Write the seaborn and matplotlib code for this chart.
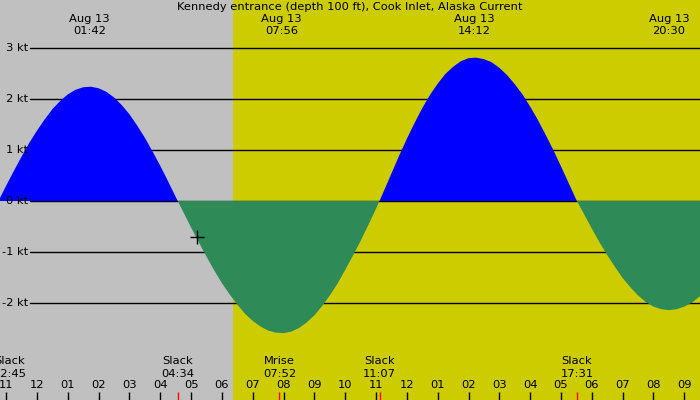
import matplotlib
matplotlib.use("Agg")
import matplotlib.pyplot as plt
import seaborn as sns

title = "Kennedy entrance (depth 100 ft), Cook Inlet, Alaska Current"

# current speed, hours from midnight Aug 13 (quarter hours)
hours = [-1.5, -1.25, -1.0, -0.75, -0.5, -0.25, 0.0, 0.25, 0.5, 0.75,
         1.0, 1.25, 1.5, 1.75, 2.0, 2.25, 2.5, 2.75, 3.0, 3.25,
         3.5, 3.75, 4.0, 4.25, 4.5, 4.75, 5.0, 5.25, 5.5, 5.75,
         6.0, 6.25, 6.5, 6.75, 7.0, 7.25, 7.5, 7.75, 8.0, 8.25,
         8.5, 8.75, 9.0, 9.25, 9.5, 9.75, 10.0, 10.25, 10.5, 10.75,
         11.0, 11.25, 11.5, 11.75, 12.0, 12.25, 12.5, 12.75, 13.0, 13.25,
         13.5, 13.75, 14.0, 14.25, 14.5, 14.75, 15.0, 15.25, 15.5, 15.75,
         16.0, 16.25, 16.5, 16.75, 17.0, 17.25, 17.5, 17.75, 18.0, 18.25,
         18.5, 18.75, 19.0, 19.25, 19.5, 19.75, 20.0, 20.25, 20.5, 20.75,
         21.0, 21.25, 21.5, 21.75, 22.0]
speed_kt = [-0.30, 0.00, 0.30, 0.59, 0.87, 1.14, 1.38, 1.60, 1.80, 1.96,
            2.09, 2.18, 2.23, 2.24, 2.21, 2.14, 2.03, 1.88, 1.70, 1.48,
            1.24, 0.97, 0.69, 0.39, 0.08, -0.22, -0.52, -0.81, -1.09, -1.36,
            -1.61, -1.83, -2.03, -2.21, -2.35, -2.46, -2.54, -2.58, -2.59, -2.56,
            -2.49, -2.38, -2.24, -2.06, -1.85, -1.62, -1.35, -1.07, -0.78, -0.47,
            -0.15, 0.19, 0.54, 0.89, 1.22, 1.53, 1.82, 2.08, 2.30, 2.49,
            2.63, 2.74, 2.80, 2.81, 2.78, 2.72, 2.61, 2.47, 2.29, 2.09,
            1.85, 1.59, 1.30, 1.00, 0.68, 0.35, 0.02, -0.26, -0.54, -0.81,
            -1.06, -1.29, -1.51, -1.69, -1.85, -1.98, -2.07, -2.12, -2.14, -2.12,
            -2.07, -1.99, -1.87, -1.72, -1.55]

# max ebb / max flood labels along the top
peak_date = "Aug 13"
peak_times = ["01:42", "07:56", "14:12", "20:30"]

# events along the bottom
event_names = ["Slack", "Slack", "Mrise", "Slack", "Slack"]
event_times = ["22:45", "04:34", "07:52", "11:07", "17:31"]
event_day = [-1, 0, 0, 0, 0]

sunrise = "06:22"
now_time = "05:11"
now_speed = -0.71

kt_levels = [-2, -1, 0, 1, 2, 3]
hour_ticks = list(range(-1, 22))


def to_hours(s, day=0):
    hh, mm = s.split(":")
    return int(hh) + int(mm) / 60 + 24 * day


x_lo, x_hi = -1.2, 21.51
y_lo, y_hi = -3.90, 3.94
fs = 8.25

sns.set_style("white")
plt.rcParams["font.family"] = ["DejaVu Sans"]
plt.rcParams["text.color"] = "black"

fig = plt.figure(figsize=(7, 4), dpi=100)
ax = fig.add_axes([0, 0, 1, 1])

# night / day background
ax.set_facecolor("#cccc00")
ax.axvspan(x_lo, to_hours(sunrise), color="#c0c0c0", lw=0, zorder=0)

# knot grid lines with labels
for lv in kt_levels:
    ax.axhline(lv, xmin=30 / 700, xmax=1, color="black", lw=1, zorder=1)
    ax.text(0.04, lv, f"{lv} kt", transform=ax.get_yaxis_transform(),
            ha="right", va="center", fontsize=fs)

# ebb (blue) and flood (green)
ax.fill_between(hours, speed_kt, 0, where=[v >= 0 for v in speed_kt],
                interpolate=True, color="#0000ff", lw=0, zorder=2)
ax.fill_between(hours, speed_kt, 0, where=[v <= 0 for v in speed_kt],
                interpolate=True, color="#2e8b57", lw=0, zorder=2)

# current position marker
sns.scatterplot(x=[to_hours(now_time)], y=[now_speed], marker="+", s=90,
                color="black", linewidth=1, ax=ax, zorder=4)

# title and peak labels
ax.text(0.5, 0.9825, title, transform=ax.transAxes, ha="center",
        va="center", fontsize=fs)
tx = ax.get_xaxis_transform()
for t in peak_times:
    h = to_hours(t)
    ax.text(h, 0.9525, peak_date, transform=tx, ha="center", va="center", fontsize=fs)
    ax.text(h, 0.9225, t, transform=tx, ha="center", va="center", fontsize=fs)

# bottom event labels (label centre kept a little inside the left edge)
ev_hours = [to_hours(t, d) for t, d in zip(event_times, event_day)]
for name, t, h in zip(event_names, event_times, ev_hours):
    hx = max(h, x_lo + 0.3)
    ax.text(hx, 0.0975, name, transform=tx, ha="center", va="center", fontsize=fs)
    ax.text(hx, 0.065, t, transform=tx, ha="center", va="center", fontsize=fs)

# hour ticks
for h in hour_ticks:
    lab = f"{(h % 12) or 12:02d}"
    ax.text(h, 0.0375, lab, transform=tx, ha="center", va="center", fontsize=fs)
sns.rugplot(x=[h for h in hour_ticks if h % 24 != 0], height=0.02,
            color="black", lw=1, ax=ax, expand_margins=False, zorder=3)
sns.rugplot(x=[0], height=0.02, color="black", lw=3, ax=ax,
            expand_margins=False, zorder=3)
sns.rugplot(x=ev_hours[1:], height=0.02, color="red", lw=1, ax=ax,
            expand_margins=False, zorder=3)

ax.set_xlim(x_lo, x_hi)
ax.set_ylim(y_lo, y_hi)
ax.set_axis_off()
ax.patch.set_visible(True)

fig.savefig("out.png", dpi=100, facecolor="#cccc00")
